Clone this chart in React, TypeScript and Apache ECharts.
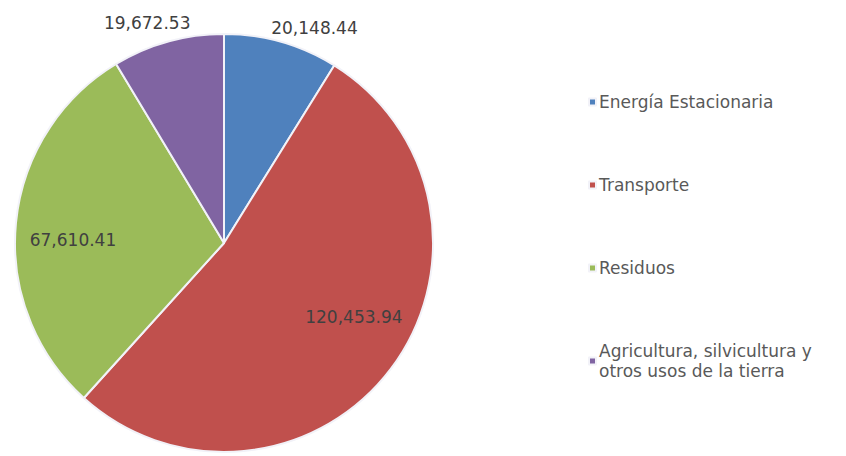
import React, { useEffect, useRef } from "react";
import * as echarts from "echarts";

const categories = [
  "Energía Estacionaria",
  "Transporte",
  "Residuos",
  "Agricultura, silvicultura y otros usos de la tierra",
];
const values = [20148.44, 120453.94, 67610.41, 19672.53];
const colors = ["#4F81BD", "#C0504D", "#9BBB59", "#8064A2"];
const labelShift = [
  [61, -112],
  [44, 9],
  [-44, 7],
  [-48, -116],
];

const fmt = (v: number) =>
  v.toLocaleString("en-US", { minimumFractionDigits: 2, maximumFractionDigits: 2 });

export default function App() {
  const ref = useRef<HTMLDivElement>(null);
  useEffect(() => {
    if (!ref.current) return;
    const chart = echarts.init(ref.current, undefined, { renderer: "svg" });
    chart.setOption({
      animation: false,
      color: colors,
      legend: {
        orient: "vertical",
        left: 583,
        top: 87,
        itemGap: 63,
        icon: "rect",
        itemWidth: 7,
        itemHeight: 7,
        data: categories,
        formatter: (name: string) =>
          name.startsWith("Agricultura") ? "Agricultura, silvicultura y\notros usos de la tierra" : name,
        textStyle: {
          fontFamily: "DejaVu Sans",
          fontSize: 17,
          color: "#595959",
          lineHeight: 20,
          padding: [0, 0, 0, -2],
        },
      },
      series: [
        {
          type: "pie",
          center: [224, 243],
          radius: 209,
          startAngle: 90,
          clockwise: true,
          avoidLabelOverlap: false,
          itemStyle: { borderColor: "#F2F2F8", borderWidth: 2 },
          label: {
            show: true,
            position: "inside",
            formatter: (p: any) => fmt(p.value),
            fontFamily: "DejaVu Sans",
            fontSize: 17,
            color: "#404040",
          },
          labelLine: { show: false },
          labelLayout: (p: any) => ({ dx: labelShift[p.dataIndex][0], dy: labelShift[p.dataIndex][1] }),
          data: categories.map((c, i) => ({ name: c, value: values[i] })),
        },
      ],
    });
    return () => chart.dispose();
  }, []);
  return (
    <div
      ref={ref}
      style={{ position: "absolute", left: 0, top: 0, width: 846, height: 456, background: "#fff" }}
    />
  );
}
